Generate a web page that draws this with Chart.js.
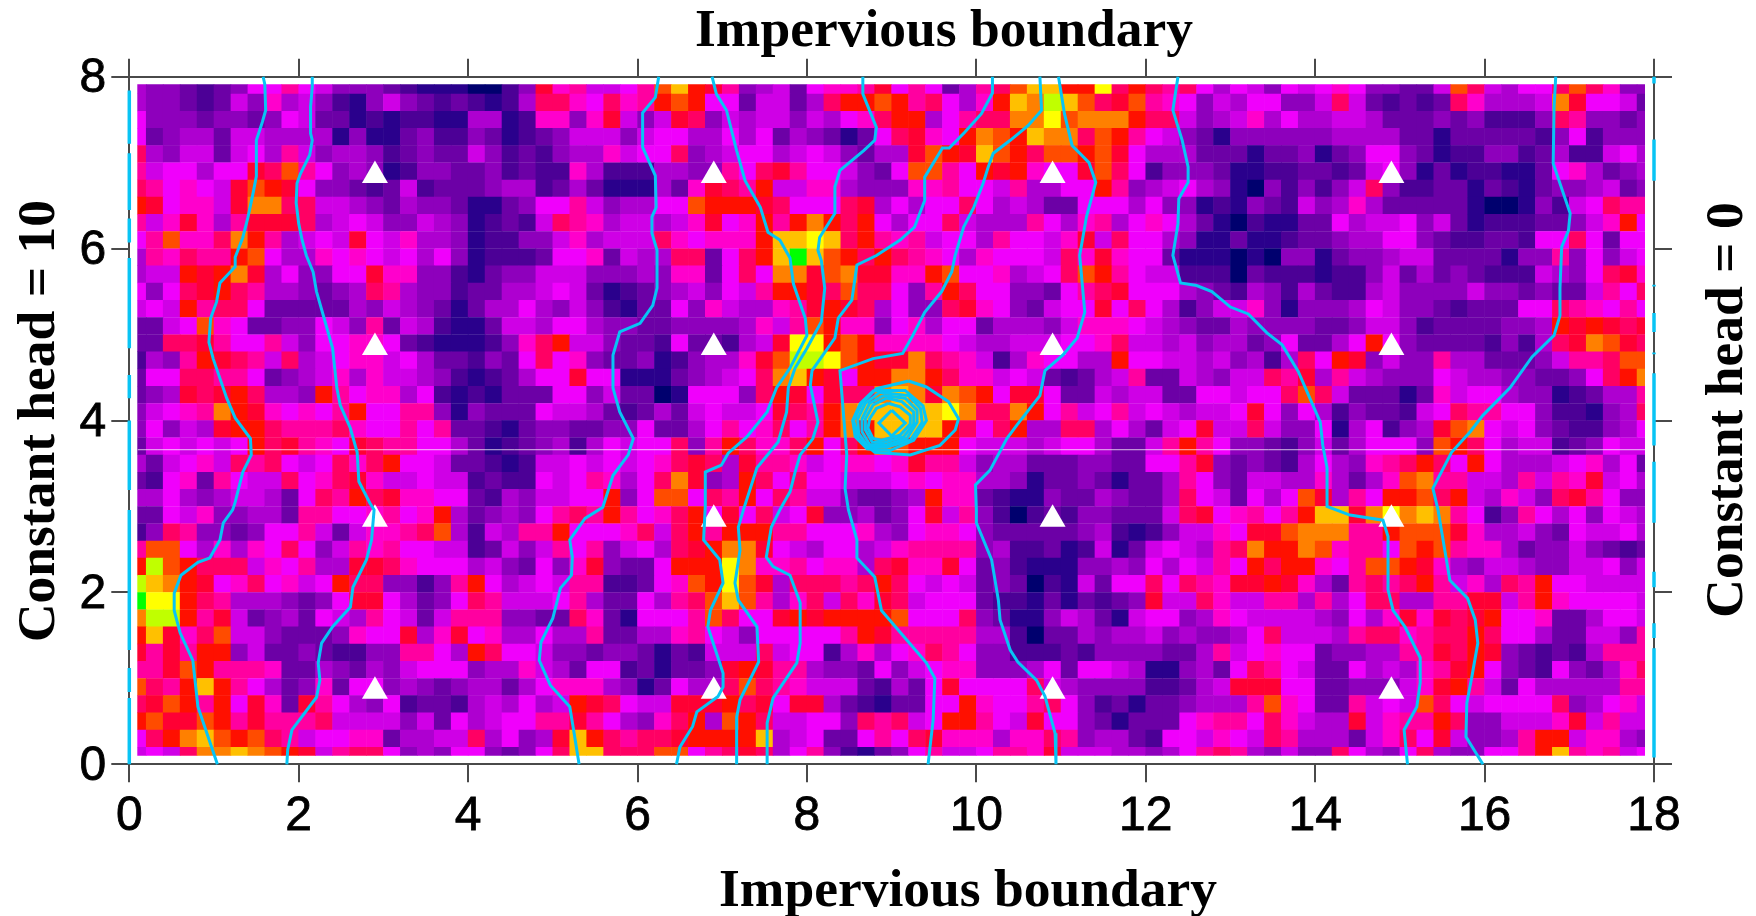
<!DOCTYPE html>
<html lang="en">

<head>
  <meta charset="UTF-8">
  <title>Impervious boundary</title>
  <script src="https://cdn.jsdelivr.net/npm/chart.js@4/dist/chart.umd.min.js"></script>
  <style>
    body { margin: 0; background: #fff; }
    canvas { display: block; }
  </style>
</head>

<body>
  <canvas id="head-map" width="1756" height="916"></canvas>

  <script>
    const xTicks = [0, 2, 4, 6, 8, 10, 12, 14, 16, 18];
    const yTicks = [0, 2, 4, 6, 8];
    const topTitle = 'Impervious boundary';
    const bottomTitle = 'Impervious boundary';
    const leftTitle = 'Constant head = 10';
    const rightTitle = 'Constant head = 0';

    // colour level of each cell (base 36), top row first, left to right
    const heatRows = [
      '5443234779 7644432111 0024b89667 9dfcb94563 7889b79735 9adffccgac a9a7576476 78744336da 6577ada844',
      '5443236485 6421464323 2125aa87a8 9cdc773663 5accdc9a75 8cfehfdabd 9874657744 6a632323a8 5556eb7763',
      '7444344347 6331212211 55128848b6 46ba465664 6578acc579 aaeegdeeec aa64568575 5665333434 2224a94434',
      '7345536655 5514113422 4312346664 6775575735 43137ab87c edcfeeadc9 7643144444 4555533133 3332472444',
      'a546636759 6455423433 6423245586 77a4567756 764355bdcb fdcaddcdb7 5553331334 1347743122 4423522675',
      '9677577bad 9745412443 3423228522 2554497ab9 776437dd97 cbc877bda7 2444311223 3236741312 2113785345',
      'a97876bdcb 7443236233 3455235311 1538ba9c66 8854448897 7695577c94 5675410424 246a422331 3213445634',
      'cb7886beea a665435443 1134779645 577dcccba7 77ab57577a 7565337775 7441214326 4585333331 0014267a99',
      '968b859bbb a567644654 12326a9856 6568b78c9c ecac7577a6 5559758957 8753102113 3756674631 22233468c7',
      '79d88aec95 676b768554 1224468566 6a87888cff gfac989677 597768b6a7 7541131123 3455774322 33277a7377',
      '598a99cd75 5878767574 1222377836 55aa37acfi fdcaca9875 87776a8b87 7311101044 1344566333 3144947467',
      '566cbceb57 4477b88442 1344666444 548837a7ee bdebb88cd7 78567adc97 6622203222 1224635343 2226547ab8',
      '747abca955 4345a95442 3355676312 34564769cc badaa749ca 7744379ab7 7754325425 3225644446 443433697a',
      '676c9aa733 3335465431 3557546421 3374865589 bcba5744ab 8743677b7a 7524668414 4457644323 3377a98797',
      '3367d87334 4764936521 1366577544 3344445869 dc88478577 3555468887 6543354444 3346642333 3445cbcbab',
      '33aab97796 4778873211 1248ac6643 32733256bg gcdc888876 55666778a6 6564553473 357c743333 2425abedba',
      '2549cba96a 5678867533 2437a78433 4124558bdh hgdcbbea98 62587755c7 766564525a 7cb4644955 3334699add',
      '377aa99734 5685866542 123577b771 1134567aef cb7cceeca8 8676323569 3365466a9b 5965444765 5443347ace',
      '345babca55 4c97885721 2133377463 3017774acb 7baaefebed c7bb733656 63377677ad a633313867 7544123559',
      '46789ecb87 879c779941 4333766532 35367667ba 9cefffffge aaec796796 765667b747 52433267a9 977422145a',
      '47465bcca9 99a8779793 3213443344 73357978a7 9cecffffca 7ac55aa575 367b66a644 7157245bde 7674322457',
      '3676767cab 987ba99775 3123452576 77a49ca88a c7acedccc7 6665677533 69c9744324 6357774dca 7566234766',
      '536786a9a7 67a8ac7763 3212667676 78aba5b998 678878b996 4553334433 779b434325 75489aca7c 7555678573',
      '327839766a 78ab866766 2322767985 7aeb45ca7a 7766678788 5541334313 3597436655 85358de996 659698b675',
      '5575456653 7a9cab8877 32546677c4 7dd7a9c7a9 6643345c88 3211433543 35a763757d b597ccdac6 5864ab9744',
      '3376844553 99778978c5 345479a9c9 78ac7b7a67 b445347b69 4202324433 36ab78979c ffbegefe97 2497574765',
      '24a9443477 9636889ad5 26599c7778 a6ac9ccc99 7778547887 4333334521 246687bbde ee99cdddb8 5564376675',
      '9dd758587a 7469897766 2364697946 75abceeb76 5775689999 4522312613 67659aecce d8997dcd98 8534464323',
      'chdcaaa687 955bba8777 5643748b43 37cccge889 7885ab88b7 3421114454 757697cacc 879ddcb854 6654466746',
      'hfecb78a78 67caa44249 c756769922 378dcgdb5a aa9aca7676 3430216377 a7a98bbcb8 539a9ac968 5a9c776666',
      'iggca95554 347bb75347 a966679533 759adfd958 a6a8ba6777 3221313234 b66a866995 957aa5599b b69c877776',
      'ehhc9b6345 3765976369 994433a831 7779da77bc bccccd777a 4311465316 7745876666 54758b8bab c778335776',
      'cfb8ad6643 334877b58b 7855755933 5589764777 779cb99999 5520335455 6454457a66 659aa89aac a775336649',
      'b9b9cc4633 4322449975 ca77644344 3132666a67 7258578a97 4422232444 4335967877 3445599bac b432325999',
      '99bdc99983 3543546777 4558653772 31334bcb99 5443746788 4445737765 114537a976 33756589bc 743274358a',
      'da9cfc9753 4837745434 5535788854 13755ada98 66632537b7 777a654444 22356bbb77 3344468bc9 6375555599',
      'abdc9c7b83 b975472332 565756cba7 66bbbcab7b b53213377c 8779a74231 3345559d87 339676da76 7777a45786',
      'cdbbdc9b99 9a66664637 567799b975 48ac5dca66 774a9a67cc 976b774313 3378997a86 55b6899ca4 46668b6966',
      '7acefdcda9 6778835566 a5745bfca9 aabccccf56 733797ab88 8588a94553 2776876a95 55368a7b64 459cc68854',
      '676aeefedc b69aa74547 74347affaa add79aba57 9421347966 7998b66655 4579a95464 4a7547a544 779cf98967'
    ];

    const heatColors = [
      '#00006e', '#2a008c', '#4c0096', '#6c00a6', '#8e00bc', '#ae00d0', '#cf00e6', '#f000fc', '#ff00cc',
      '#ff00a0', '#ff0064', '#ff0034', '#ff1000', '#ff4c00', '#ff8000', '#ffc000', '#ffff00', '#c0ff00', '#00ff00'
    ];

    // head contours from the top edge to the bottom edge, [x, y]
    const contourA = [[1.58, 8], [1.6, 7.91], [1.61, 7.61], [1.57, 7.47], [1.5, 7.26], [1.5, 6.84], [1.46, 6.64], [1.4, 6.36], [1.34, 6.13], [1.25, 5.9], [1.25, 5.79], [1.07, 5.6], [1.03, 5.38], [0.96, 5.19], [0.94, 4.91], [0.99, 4.72], [1.07, 4.49], [1.15, 4.26], [1.25, 4.03], [1.43, 3.79], [1.44, 3.6], [1.34, 3.4], [1.25, 3.05], [1.22, 2.96], [1.11, 2.81], [1.07, 2.61], [0.95, 2.4], [0.81, 2.35], [0.61, 2.2], [0.53, 1.99], [0.53, 1.79], [0.6, 1.53], [0.75, 1.21], [0.81, 0.67], [1.04, 0]];
    const contourB = [[2.16, 8], [2.16, 7.88], [2.14, 7.65], [2.14, 7.34], [2.16, 7.26], [2.13, 7.09], [2.02, 6.87], [1.98, 6.76], [1.97, 6.53], [2, 6.29], [2.04, 6.1], [2.09, 5.92], [2.17, 5.73], [2.21, 5.5], [2.3, 5.19], [2.4, 4.84], [2.45, 4.38], [2.49, 4.18], [2.61, 3.91], [2.69, 3.63], [2.71, 3.29], [2.84, 3.04], [2.89, 2.96], [2.86, 2.61], [2.8, 2.38], [2.64, 2.06], [2.61, 1.83], [2.4, 1.6], [2.27, 1.41], [2.23, 1.18], [2.25, 0.98], [2.21, 0.78], [1.92, 0.4], [1.87, 0.17], [1.86, 0]];
    const contourC = [[6.25, 8], [6.21, 7.76], [6.06, 7.58], [6.06, 7.18], [6.21, 6.85], [6.22, 6.48], [6.17, 6.37], [6.17, 6.18], [6.23, 5.98], [6.23, 5.54], [6.18, 5.34], [6.03, 5.13], [5.79, 5.03], [5.71, 4.76], [5.71, 4.38], [5.79, 4.1], [5.95, 3.79], [5.89, 3.6], [5.71, 3.36], [5.59, 2.99], [5.38, 2.86], [5.2, 2.61], [5.23, 2.41], [5.22, 2.2], [5.09, 2.05], [5, 1.7], [4.86, 1.42], [4.84, 1.21], [4.97, 0.92], [5.2, 0.67], [5.24, 0.43], [5.31, 0]];
    const contourD = [[6.88, 8], [6.93, 7.8], [7.05, 7.61], [7.17, 7.14], [7.27, 6.79], [7.45, 6.48], [7.54, 6.19], [7.68, 6.1], [7.8, 5.89], [7.84, 5.59], [7.98, 5.19], [8, 4.99], [7.8, 4.61], [7.64, 4.38], [7.53, 4.1], [7.29, 3.81], [7.07, 3.62], [6.99, 3.48], [6.8, 3.4], [6.8, 3.17], [6.8, 3.01], [6.78, 2.61], [6.97, 2.38], [7.01, 2.11], [6.86, 1.79], [6.83, 1.6], [7.01, 1.06], [7.01, 0.9], [6.95, 0.79], [6.7, 0.61], [6.65, 0.44], [6.5, 0.2], [6.46, 0]];
    const contourE = [[8.66, 8], [8.66, 7.8], [8.82, 7.41], [8.8, 7.26], [8.67, 7.14], [8.39, 6.91], [8.33, 6.72], [8.33, 6.41], [8.15, 6.13], [8.13, 5.98], [8.17, 5.86], [8.21, 5.54], [8.17, 5.15], [8, 4.84], [7.86, 4.61], [7.78, 4.38], [7.76, 4.1], [7.66, 3.75], [7.41, 3.45], [7.25, 2.96], [7.19, 2.76], [7.21, 2.49], [7.15, 2.11], [7.19, 1.91], [7.41, 1.6], [7.43, 1.19], [7.21, 0.75], [7.17, 0.55], [7.17, 0]];
    const contourF = [[10.19, 8], [10.19, 7.81], [10.06, 7.57], [9.86, 7.35], [9.68, 7.17], [9.6, 7.17], [9.39, 6.83], [9.39, 6.56], [9.27, 6.25], [9.1, 6.1], [8.82, 5.92], [8.59, 5.81], [8.53, 5.4], [8.37, 5.19], [8.33, 4.96], [8.06, 4.58], [8.04, 4.41], [8.13, 3.98], [8.07, 3.79], [7.92, 3.6], [7.86, 3.4], [7.8, 3.17], [7.68, 2.96], [7.58, 2.76], [7.52, 2.41], [7.6, 2.3], [7.8, 2.2], [7.92, 1.88], [7.92, 1.41], [7.88, 1.18], [7.6, 0.77], [7.53, 0.48], [7.53, 0]];
    const contourG = [[10.75, 8], [10.77, 7.61], [10.61, 7.43], [10.4, 7.26], [10.2, 7.11], [10.14, 6.95], [10.08, 6.76], [9.97, 6.48], [9.85, 6.25], [9.75, 5.92], [9.71, 5.73], [9.59, 5.5], [9.39, 5.26], [9.25, 4.99], [9.13, 4.78], [8.78, 4.72], [8.39, 4.58], [8.47, 3.6], [8.45, 3.21], [8.49, 2.96], [8.59, 2.61], [8.59, 2.4], [8.8, 2.18], [8.88, 1.79], [9.41, 1.18], [9.51, 1], [9.49, 0.52], [9.43, 0]];
    const contourH = [[10.97, 8], [11.04, 7.57], [11.13, 7.2], [11.33, 7], [11.41, 6.77], [11.3, 6.37], [11.22, 5.92], [11.28, 5.26], [11.19, 4.96], [11.02, 4.76], [10.81, 4.58], [10.75, 4.29], [10.48, 3.95], [10.36, 3.79], [10.16, 3.42], [9.99, 3.25], [10, 2.96], [10, 2.81], [10.18, 2.38], [10.26, 1.91], [10.28, 1.68], [10.4, 1.33], [10.49, 1.19], [10.71, 0.98], [10.81, 0.79], [10.93, 0.36], [10.94, 0]];
    const contourI = [[12.38, 8], [12.32, 7.61], [12.43, 7.26], [12.5, 6.95], [12.5, 6.77], [12.39, 6.58], [12.38, 6.29], [12.32, 5.92], [12.41, 5.6], [12.6, 5.57], [12.78, 5.5], [13, 5.32], [13.21, 5.24], [13.43, 5.02], [13.61, 4.88], [13.8, 4.57], [14.06, 3.98], [14.09, 3.71], [14.14, 3.45], [14.14, 3], [14.41, 2.9], [14.8, 2.84], [14.86, 2.65], [14.86, 2.03], [14.92, 1.79], [15.06, 1.6], [15.24, 1.24], [15.24, 0.95], [15.2, 0.67], [15.05, 0.4], [15.09, 0]];
    const contourJ = [[16.84, 8], [16.82, 7.65], [16.81, 6.99], [17.01, 6.41], [16.99, 6.21], [16.91, 6.02], [16.89, 5.54], [16.89, 5.22], [16.82, 4.99], [16.56, 4.74], [16.3, 4.38], [15.98, 4.06], [15.83, 3.87], [15.61, 3.63], [15.39, 3.21], [15.45, 2.96], [15.51, 2.61], [15.59, 2.14], [15.8, 1.93], [15.89, 1.68], [15.92, 1.41], [15.85, 1.02], [15.79, 0.71], [15.78, 0.32], [15.98, 0]];

    // closed rings around the well at (9, 4)
    const wellRing1 = [[9.2, 4.46], [9.41, 4.39], [9.67, 4.22], [9.79, 4.02], [9.75, 3.89], [9.57, 3.71], [9.22, 3.6], [8.8, 3.63], [8.61, 3.79], [8.55, 4], [8.65, 4.2], [8.82, 4.37], [9.2, 4.46]];
    const wellRing2 = [[8.79, 4.35], [9.16, 4.35], [9.37, 4.17], [9.41, 4], [9.26, 3.77], [8.98, 3.65], [8.71, 3.67], [8.57, 3.81], [8.54, 4], [8.63, 4.2], [8.79, 4.35]];
    const wellRing3 = [[8.86, 4.33], [9.2, 4.29], [9.34, 4.14], [9.36, 3.98], [9.22, 3.77], [8.94, 3.69], [8.72, 3.7], [8.61, 3.85], [8.6, 4.02], [8.69, 4.2], [8.86, 4.33]];
    const wellRing4 = [[8.9, 4.29], [9.16, 4.26], [9.3, 4.12], [9.3, 3.98], [9.18, 3.79], [8.92, 3.71], [8.74, 3.72], [8.65, 3.87], [8.65, 4.02], [8.74, 4.2], [8.9, 4.29]];
    const wellRing5 = [[8.94, 4.26], [9.12, 4.22], [9.26, 4.1], [9.26, 3.96], [9.14, 3.81], [8.9, 3.74], [8.77, 3.75], [8.69, 3.89], [8.69, 4.02], [8.78, 4.18], [8.94, 4.26]];
    const wellRing6 = [[8.96, 4.2], [9.1, 4.16], [9.22, 4.06], [9.22, 3.96], [9.1, 3.83], [8.88, 3.77], [8.78, 3.79], [8.72, 3.91], [8.74, 4.02], [8.82, 4.14], [8.96, 4.2]];
    const wellDiamond = [[9, 4.12], [9.16, 3.97], [9, 3.82], [8.85, 3.97], [9, 4.12]];

    // contour pieces that run along the two constant head sides, [from y, to y]
    const leftSideRuns = [[7.84, 7.22], [7.11, 6.45], [6.35, 6.07], [5.89, 4.84], [4.53, 4.26], [4, 3.19], [2.96, 1.33], [1.12, 0.84], [0.77, 0]];
    const rightSideRuns = [[8, 7.92], [7.27, 6.79], [5.58, 5.56], [5.25, 5.03], [4.79, 4.77], [4.55, 3.71], [3.52, 2.81], [2.24, 2.06], [1.64, 1.47], [1.35, 0.08]];

    const wellX = [2.9, 6.9, 10.9, 14.9];
    const wellY = [0.85, 2.85, 4.85, 6.85];
    const seamY = 3.66;

    const heatPoints = [];
    const heatPointColors = [];
    heatRows.forEach((row, r) => {
      row.replace(/ /g, '').split('').forEach((level, c) => {
        heatPoints.push({ x: 0.1 + 0.2 * c, y: 7.9 - 0.2 * r });
        heatPointColors.push(heatColors[parseInt(level, 36)]);
      });
    });

    const wellPoints = [];
    wellX.forEach(x => wellY.forEach(y => wellPoints.push({ x, y })));

    const toPoints = line => line.map(p => ({ x: p[0], y: p[1] }));

    function sideLine(x, runs) {
      const pts = [];
      runs.forEach(run => {
        pts.push({ x, y: run[0] }, { x, y: run[1] }, { x, y: NaN });
      });
      return pts;
    }

    const cyan = '#08c4f4';
    const lineSet = (pts, width) => ({
      type: 'scatter',
      data: pts,
      showLine: true,
      spanGaps: false,
      borderColor: cyan,
      borderWidth: width,
      pointRadius: 0,
      order: 0,
      clip: 3
    });

    const contourLines = [contourA, contourB, contourC, contourD, contourE, contourF, contourG, contourH, contourI, contourJ,
      wellRing1, wellRing2, wellRing3, wellRing4, wellRing5, wellRing6, wellDiamond];

    const tickGrid = {
      drawOnChartArea: false,
      color: '#4a4a4a',
      lineWidth: 2,
      tickLength: 18
    };
    const axisBorder = { color: '#4a4a4a', width: 2 };
    const tickFont = { family: '"Liberation Sans"', size: 48 };

    // the four captions sit off centre in the picture, so they are placed by hand
    function drawCaption(c, text, x, y, turned) {
      c.save();
      c.fillStyle = '#000';
      c.font = 'bold 53.5px "Liberation Serif"';
      c.textAlign = 'center';
      c.textBaseline = 'middle';
      c.translate(x, y);
      if (turned) c.rotate(-Math.PI / 2);
      c.fillText(text, 0, 0);
      c.restore();
    }

    const captionPlugin = {
      id: 'captions',
      afterDraw(chart) {
        const c = chart.ctx;
        drawCaption(c, topTitle, 944, 32, false);
        drawCaption(c, bottomTitle, 968, 892, false);
        drawCaption(c, leftTitle, 40, 421, true);
        drawCaption(c, rightTitle, 1728, 410, true);
      }
    };

    new Chart(document.getElementById('head-map'), {
      type: 'scatter',
      data: {
        datasets: [
          ...contourLines.map(line => lineSet(toPoints(line), 3)),
          lineSet(sideLine(0, leftSideRuns), 3.5),
          lineSet(sideLine(18, rightSideRuns), 3.5),
          {
            data: wellPoints,
            pointStyle: 'triangle',
            pointRadius: 15,
            pointBorderWidth: 0,
            pointBackgroundColor: '#fff',
            order: 1
          },
          {
            data: [{ x: 0.1, y: seamY }, { x: 17.9, y: seamY }],
            showLine: true,
            borderColor: 'rgba(255,255,255,0.75)',
            borderWidth: 1,
            pointRadius: 0,
            order: 2
          },
          {
            data: heatPoints,
            pointStyle: 'rect',
            pointRadius: 12.4,
            pointBorderWidth: 0,
            pointBackgroundColor: heatPointColors,
            order: 3,
            clip: { left: -8, right: -9, top: -7.6, bottom: -8.6 }
          }
        ]
      },
      options: {
        responsive: false,
        animation: false,
        events: [],
        layout: { padding: 0 },
        plugins: {
          legend: { display: false },
          tooltip: { enabled: false },
          title: { display: false }
        },
        scales: {
          x: {
            type: 'linear',
            position: 'bottom',
            min: 0,
            max: 18,
            afterBuildTicks: s => { s.ticks = xTicks.map(value => ({ value })); },
            afterFit: s => { s.height = 151.7; },
            grid: tickGrid,
            border: axisBorder,
            ticks: { color: '#000', font: tickFont, padding: 6, maxRotation: 0, autoSkip: false, textStrokeColor: '#000', textStrokeWidth: 0.8 }
          },
          xTop: {
            type: 'linear',
            axis: 'x',
            position: 'top',
            min: 0,
            max: 18,
            afterBuildTicks: s => { s.ticks = xTicks.map(value => ({ value })); },
            afterFit: s => { s.height = 76.7; },
            grid: tickGrid,
            border: axisBorder,
            ticks: { display: false }
          },
          y: {
            type: 'linear',
            position: 'left',
            min: 0,
            max: 8,
            afterBuildTicks: s => { s.ticks = yTicks.map(value => ({ value })); },
            afterFit: s => { s.width = 129.3; },
            grid: tickGrid,
            border: axisBorder,
            ticks: { color: '#000', font: tickFont, padding: 5, labelOffset: 2.5, autoSkip: false, textStrokeColor: '#000', textStrokeWidth: 0.8 }
          },
          yRight: {
            type: 'linear',
            axis: 'y',
            position: 'right',
            min: 0,
            max: 8,
            afterBuildTicks: s => { s.ticks = yTicks.map(value => ({ value })); },
            afterFit: s => { s.width = 102; },
            grid: tickGrid,
            border: axisBorder,
            ticks: { display: false }
          }
        }
      },
      plugins: [captionPlugin]
    });
  </script>

</body>

</html>
